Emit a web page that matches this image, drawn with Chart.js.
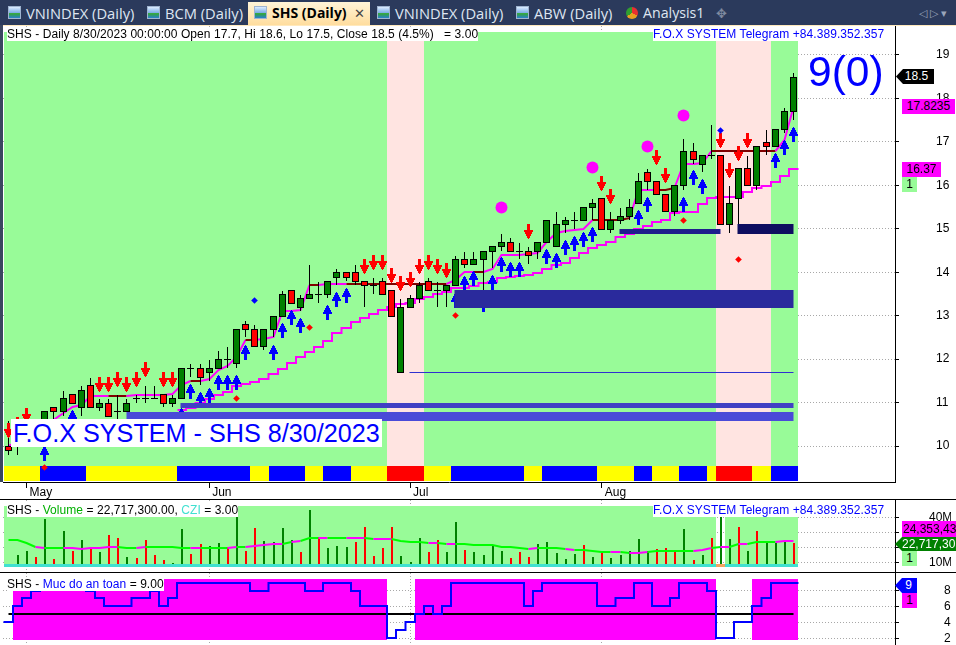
<!DOCTYPE html>
<html>
<head>
<meta charset="utf-8">
<title>SHS Daily</title>
<script src="https://cdn.jsdelivr.net/npm/chart.js@4"></script>
<style>
    html, body { margin: 0; padding: 0; background: #fff; overflow: hidden; }
    #page { position: relative; width: 956px; height: 645px; overflow: hidden; font-family: "Liberation Sans", Arial, sans-serif; }
    canvas { position: absolute; left: 0; }
    .abs { position: absolute; white-space: pre; }
    #tabbar { left: 0; top: 0; width: 956px; height: 25px; background: #2b3a5c; border-bottom: 1px solid #ffe9bd; }
    #leftedge { left: 0; top: 25px; width: 3px; height: 457px; background: #3a4660; }
    .tab { top: 3px; height: 20px; line-height: 20px; color: #dfe6f2; font: 14.7px/20px "Open Sans", sans-serif; }
    .ico { top: 6px; width: 13px; height: 13px; border: 1px solid #9fb4d0; box-sizing: border-box; background: linear-gradient(#dcecff 0, #7fb0e8 50%, #32a832 60%, #2a7fd0 100%); }
    #active { left: 248px; top: 2px; width: 122px; height: 23px; background: linear-gradient(#fff4d8, #ffdd9e); }
    .strip { background: #fff; font-size: 12px; line-height: 14px; height: 14px; color: #000; letter-spacing: 0.06px; }
    .sep { left: 0; width: 956px; height: 1px; background: #000; }
    .tag { font-size: 12px; line-height: 15px; height: 15px; text-align: center; }
    .ptr { clip-path: polygon(0 50%, 7px 0, 100% 0, 100% 100%, 7px 100%); }
</style>
</head>
<body>
<div id="page">
    <canvas id="priceChart" width="956" height="473" style="top:26px"></canvas>
    <canvas id="volChart" width="956" height="72" style="top:500px"></canvas>
    <canvas id="cziChart" width="956" height="72" style="top:573px"></canvas>

    <div class="abs" id="tabbar"></div>
    <div class="abs" id="leftedge"></div>
    <div class="abs" id="active"></div>
    <div class="abs ico" style="left:8px"></div><div class="abs tab" style="left:26px">VNINDEX (Daily)</div>
    <div class="abs ico" style="left:147px"></div><div class="abs tab" style="left:165px">BCM (Daily)</div>
    <div class="abs ico" style="left:254px"></div><div class="abs tab" style="left:272px;color:#000;font-weight:700;font-size:14px">SHS (Daily)</div>
    <div class="abs tab" style="left:354px;color:#444;font-size:13px">✕</div>
    <div class="abs ico" style="left:377px"></div><div class="abs tab" style="left:395px">VNINDEX (Daily)</div>
    <div class="abs ico" style="left:516px"></div><div class="abs tab" style="left:534px">ABW (Daily)</div>
    <div class="abs" style="left:626px;top:7px;width:12px;height:12px;border-radius:50%;background:conic-gradient(#e83030 0 33%, #e8a020 33% 66%, #30a030 66%)"></div>
    <div class="abs tab" style="left:643px;font-size:14.2px">Analysis1</div>
    <div class="abs tab" style="left:716px;color:#7f8aa0;font-size:13px">✥</div>
    <div class="abs tab" style="left:919px;color:#9aa5ba;font-size:11px">◁ ▷ ▾</div>

    <div class="abs strip" style="left:7px;top:27px">SHS - Daily 8/30/2023 00:00:00 Open 17.7, Hi 18.6, Lo 17.5, Close 18.5 (4.5%)   = 3.00</div>
    <div class="abs strip" style="left:653px;top:27px;color:#0000ff">F.O.X SYSTEM Telegram +84.389.352.357</div>
    <div class="abs" style="left:808px;top:46px;font-size:42.5px;line-height:52px;color:#0000ff">9(0)</div>
    <div class="abs" style="left:11px;top:419px;background:#fff;color:#0000ff;font-size:25.2px;line-height:28px;height:28px;padding:0 2px">F.O.X SYSTEM - SHS 8/30/2023</div>

    <div class="abs tag ptr" style="left:896px;top:69px;width:38px;background:#000;color:#fff;padding-left:3px;box-sizing:border-box">18.5</div>
    <div class="abs tag" style="left:902px;top:99px;width:53px;background:#ff00ff;color:#000">17.8235</div>
    <div class="abs tag" style="left:902px;top:162px;width:39px;background:#ff00ff;color:#000">16.37</div>
    <div class="abs tag" style="left:902px;top:177px;width:15px;background:#98fb98;color:#000">1</div>

    <div class="abs sep" style="top:499px"></div>
    <div class="abs sep" style="top:572px"></div>

    <div class="abs strip" style="left:7px;top:503px">SHS - <span style="color:#00b000">Volume</span> = 22,717,300.00, <span style="color:#40e0d0">CZI</span> = 3.00</div>
    <div class="abs strip" style="left:653px;top:503px;color:#0000ff">F.O.X SYSTEM Telegram +84.389.352.357</div>
    <div class="abs tag" style="left:902px;top:521px;width:54px;background:#ff00ff;color:#000;overflow:hidden;text-align:left;height:17px;line-height:16px;padding-left:1px">24,353,43</div>
    <div class="abs tag ptr" style="left:895px;top:537px;width:61px;height:14px;line-height:14px;background:#008000;color:#fff;text-align:left;padding-left:7px;box-sizing:border-box;overflow:hidden">22,717,30</div>
    <div class="abs tag" style="left:902px;top:551px;width:15px;background:#98fb98;color:#000">1</div>

    <div class="abs strip" style="left:7px;top:577px">SHS - <span style="color:#0000ff">Muc do an toan</span> = 9.00</div>
    <div class="abs tag ptr" style="left:895px;top:578px;width:22px;background:#0000ff;color:#fff;padding-left:5px;box-sizing:border-box">9</div>
    <div class="abs tag" style="left:902px;top:593px;width:15px;background:#ff00ff;color:#000">1</div>
</div>

<script>
// Kerzen (Gia mo, cao, thap, dong)
const opens = [10.0,10.3,10.4,10.6,10.5,10.9,10.8,11.2,10.9,11.4,10.9,11.0,10.8,10.8,11.1,11.1,11.1,11.2,11.0,11.1,
    11.8,11.8,11.7,11.8,12.0,11.9,12.8,12.7,12.3,12.7,13.0,13.6,13.2,13.4,13.5,13.5,13.9,14.0,14.0,13.8,
    13.7,13.8,13.6,11.7,13.2,13.4,13.8,13.6,13.6,13.7,14.3,14.2,14.3,14.5,14.6,14.7,14.5,14.5,14.5,14.7,
    14.6,15.1,15.2,15.2,15.5,15.7,15.0,15.2,15.3,15.6,16.3,16.1,15.8,15.4,16.0,16.8,16.5,16.7,16.7,15.1,
    15.7,16.4,16.0,17.0,16.9,17.3,17.7];
const highs = [10.6,10.5,10.6,10.6,10.8,10.9,11.3,11.2,11.4,11.6,11.1,11.1,11.2,11.1,11.2,11.4,11.4,11.2,11.2,11.8,
    11.9,11.9,12.0,12.2,12.3,12.7,12.9,12.8,12.7,13.0,13.6,13.6,13.5,14.2,13.8,13.8,14.1,14.0,14.2,13.8,
    13.9,13.9,13.6,13.4,13.5,13.8,13.9,13.8,13.7,14.4,14.5,14.5,14.5,14.6,14.9,14.8,14.7,14.6,14.7,15.2,
    15.4,15.3,15.4,15.5,15.7,15.7,15.4,15.5,15.7,16.3,16.4,16.1,15.8,16.0,17.1,17.0,16.7,17.4,16.7,16.0,
    16.4,16.7,16.9,17.3,17.3,17.8,18.6];
const lows = [9.8,9.8,10.3,10.4,10.4,10.6,10.7,11.0,10.7,10.9,10.8,10.7,10.6,10.8,11.0,11.0,11.1,10.9,10.9,11.1,
    11.6,11.4,11.5,11.8,11.8,11.8,12.5,12.3,12.2,12.5,13.0,13.3,13.1,13.4,13.3,13.4,13.7,13.8,13.7,13.2,
    13.5,13.5,13.0,11.7,13.2,13.3,13.6,13.2,13.2,13.7,14.1,14.2,13.6,14.1,14.5,14.5,14.3,14.2,14.3,14.7,
    14.6,14.9,15.0,15.2,15.2,15.0,14.9,15.1,15.2,15.6,15.9,15.8,15.4,15.3,15.9,16.5,16.3,16.6,15.1,14.9,
    15.0,16.0,15.9,16.7,16.9,17.2,17.5];
const closes = [9.9,10.5,10.6,10.5,10.8,10.8,11.1,11.0,11.3,10.9,11.0,10.7,10.8,11.0,11.1,11.1,11.1,11.0,11.1,11.8,
    11.8,11.6,11.8,12.0,12.0,12.7,12.7,12.3,12.7,13.0,13.5,13.3,13.4,13.5,13.5,13.8,14.0,13.9,13.8,13.7,
    13.7,13.5,13.0,13.2,13.4,13.7,13.6,13.6,13.7,14.3,14.2,14.3,14.5,14.6,14.7,14.5,14.5,14.4,14.7,15.2,
    15.1,15.2,15.2,15.5,15.6,15.0,15.2,15.3,15.5,16.1,16.1,15.8,15.4,16.0,16.8,16.6,16.7,16.7,15.1,15.6,
    16.4,16.0,16.9,16.9,17.3,17.7,18.5];

// Trailing-Stop Linien
const fastStop = [10.0,10.1,10.2,10.3,10.4,10.6,10.75,10.9,10.95,11.15,11.15,11.15,11.15,11.15,11.17,11.17,11.17,11.18,11.2,11.4,
    11.5,11.5,11.55,11.75,11.85,12.05,12.45,12.45,12.47,12.5,13.1,13.1,13.12,13.7,13.7,13.72,13.73,13.73,13.73,13.73,
    13.73,13.73,13.73,13.73,13.73,13.73,13.73,13.73,13.73,13.82,14.0,14.0,14.0,14.08,14.4,14.4,14.4,14.42,14.45,14.7,
    14.9,14.95,14.97,15.0,15.2,15.2,15.2,15.2,15.25,15.9,15.9,15.9,15.9,15.95,16.5,16.5,16.52,16.8,16.8,16.8,
    16.8,16.8,16.8,16.8,16.8,17.05,17.8];
const fastStopDark = [11,12,20,26,33,37,38,39,40,41,42,43,44,45,46,47,51,64,65,66,67,71,72,77,78,79,80,81,82,83];
const slowBars = [19,20,21,22,23,24,25,26,27,28,29,30,31,32,33,34,35,36,37,38,39,40,41,42,43,44,45,46,47,48,49,50,51,52,
    53,54,55,56,57,58,59,60,61,62,63,64,65,66,67,68,69,70,71,72,73,74,75,76,77,78,79,80,81,82,83,84,85,86];
const slowStop = [10.83,10.88,11.0,11.08,11.18,11.25,11.37,11.43,11.48,11.54,11.66,11.77,11.92,12.06,12.17,12.29,12.42,12.59,12.72,12.86,
    12.95,13.05,13.13,13.21,13.27,13.29,13.38,13.44,13.5,13.54,13.63,13.64,13.68,13.76,13.78,13.87,13.9,13.92,13.94,13.99,
    14.08,14.17,14.22,14.33,14.45,14.56,14.63,14.7,14.8,14.87,15.0,15.07,15.15,15.2,15.37,15.38,15.38,15.57,15.7,15.72,
    15.74,15.74,15.84,15.93,15.98,16.07,16.22,16.38];

// Signalpfeile
const sellBars = [0,1,2,10,11,12,13,14,15,17,18,39,40,41,42,43,44,45,46,47,48,57,65,66,71,72,78,79,80,81];
const sellVals = [10.35,10.5,10.7,11.42,11.42,11.53,11.42,11.53,11.75,11.53,11.53,14.13,14.22,14.22,13.93,13.74,13.84,14.13,14.22,14.13,
    14.04,14.94,16.05,15.74,16.64,16.23,17.04,16.35,16.74,17.04];
const buyBars = [4,7,19,20,21,22,23,24,25,26,29,30,31,32,35,36,37,49,50,51,52,53,54,55,56,59,60,61,62,63,64,69,70,74,75,76,84,85,86];
const buyVals = [9.83,10.66,10.7,11.25,11.06,11.16,11.46,11.46,11.46,12.15,12.15,12.65,12.95,12.77,13.08,13.38,13.46,13.36,13.75,13.85,
    13.26,13.76,14.17,14.06,14.06,14.36,14.27,14.57,14.66,14.76,14.86,15.26,15.56,15.55,16.18,15.97,16.57,16.88,17.17];
const redDotBars = [4,25,33,49,74,80];
const redDotVals = [9.5,11.1,12.72,13.0,15.2,14.3];
const blueDotBars = [27,78];
const blueDotVals = [13.36,17.27];
const bigDotBars = [54,64,70,74];
const bigDotVals = [15.49,16.4,16.9,17.6];

// Unterstuetzungsbaender
const bandStart = [12.9,18.9,48.9,66.9,79.9,43.9];
const bandEnd = [86,86,86,78,86,86];
const bandLevel = [10.68,10.93,13.38,14.94,15.0,11.7];
const bandColors = ['#4a4ad8','#4040c4','#2a2a9c','#1e1e8c','#0e0e60','#3030d0'];
const bandThick = [9,5,18,5,10,1];

const pinkBars = [42,43,44,45,78,79,80,81,82,83];
const stripCodes = ('YYYYBBBBBY' + 'YYYYYYYYYB' + 'BBBBBBBYYB' + 'BBBYYBBBYY' + 'YYRRRRYYYB' +
    'BBBBBBBYYB' + 'BBBBBYYYYB' + 'BYYYBBBYRR' + 'RRYYBBB').split('');

// Volumen (Mio.)
const volumes = [8.2,14.9,17.5,13.5,38.9,12.2,30.9,17.5,24.9,20.2,16.9,28.2,26.2,13.5,12.9,24.9,14.9,11.5,9.5,32.2,
    15.5,22.2,20.9,22.9,20.2,41.5,17.5,32.9,24.2,23.5,32.9,24.9,16.9,44.9,26.9,19.5,20.9,20.2,23.5,33.5,
    14.2,19.5,33.5,14.2,10.2,26.2,16.9,24.9,16.9,36.9,18.2,16.9,14.9,21.5,17.5,12.9,16.9,13.5,22.2,23.5,
    16.2,12.2,15.5,21.5,13.5,16.9,12.9,14.9,17.5,25.5,17.5,18.9,19.5,16.9,32.2,11.5,14.9,26.2,40.9,25.5,
    33.5,17.5,30.9,22.9,22.9,24.9,22.7];
const volColors = ('rggrgrgrgr' + 'grrgrrrrgg' + 'rrggrgrrgg' + 'ggrgrgggrr' + 'rrrgggrrgg' +
    'rggggrrrgg' + 'gggrgrgggg' + 'grrrgrgrgg' + 'rgrggg').split('');
const volAvg = [25.1,24.6,22.6,20.4,19.8,19.8,19.3,19.3,19.1,19.3,19.8,20.0,20.4,19.8,19.8,20.4,20.4,20.4,20.0,19.8,
    19.8,19.8,19.8,19.8,19.8,20.2,20.4,20.9,21.5,22.2,22.4,23.3,24.2,26.4,26.4,26.4,26.4,26.4,26.4,26.4,
    25.3,25.5,25.8,24.4,23.5,23.5,23.1,22.9,22.0,22.2,22.0,21.8,21.8,21.5,20.4,20.0,19.3,19.1,19.8,19.8,
    19.3,18.9,18.4,18.2,17.3,17.1,16.9,16.6,16.4,16.4,17.1,17.5,17.8,17.8,17.8,17.8,18.2,19.3,20.0,20.4,
    22.2,22.4,23.5,23.5,23.5,24.2,24.35];
const volAvgHot = [3,6,7,8,9,10,11,14,20,24,26,27,28,29,31,34,37,38,40,41,46,48,57,61,66,68,69,75,76,78,80,84,85];
const volWhiteBars = [78];

// Muc do an toan
const safety = [4,6,7,8,9,9,9,9,9,8,7,6,6,6,7,7,8,6,7,9,
    9,9,9,9,9,9,9,8,8,9,9,9,9,8,8,9,9,9,8,6,
    6,6,2,3,4,5,6,5,6,9,9,9,9,9,9,9,9,6,8,9,
    9,9,9,9,9,6,6,7,7,9,9,6,6,7,9,9,9,8,2,2,
    4,4,6,7,9,9,9];
const safetyMid = [5,5];
const safetyWhiteBars = [0,42,43,44,78,79,80,81];

// Achsen
const monthTicks = [2,22,44,65];
const monthLabels = ['May','Jun','Jul','Aug'];
const priceTicks = [10,11,12,13,14,15,16,17,18,19];
const volTicks = [10,20,30,40];
const volTickLabels = ['10M','','','40M'];
const safetyTicks = [2,4,6,8];

const GREEN = '#98fb98', PINK = '#ffe4e1', MAGENTA = '#ff00ff';
const stripColor = { Y: '#ffff00', B: '#0000ff', R: '#ff0000' };
const barIndex = opens.map((_, i) => i);
const xRange = { min: -0.58, max: 97.12 };

// Pfeile als Pixelbild wie im Original
function makeArrow(color, up) {
    const rows = [1, 3, 3, 5, 5, 7, 7, 9, 9, 3, 3, 3, 3, 3, 3];
    const c = document.createElement('canvas');
    c.width = 9;
    c.height = 15;
    const g = c.getContext('2d');
    g.fillStyle = color;
    rows.forEach((w, r) => g.fillRect((9 - w) / 2, up ? r : 14 - r, w, 1));
    return c;
}

// Alles auf ganze Pixel legen, sonst werden die Kerzen unscharf
const snapPlugin = {
    id: 'snap',
    beforeDatasetsDraw(chart) {
        chart.getSortedVisibleDatasetMetas().forEach(meta => {
            const ds = chart.data.datasets[meta.index];
            if (meta.type === 'bar') {
                meta.data.forEach(el => {
                    let left, right;
                    if (ds.tile) {
                        left = Math.round(el.x - el.width / 2);
                        right = Math.round(el.x + el.width / 2);
                    } else {
                        const w = Math.round(el.width);
                        left = Math.round(Math.floor(el.x) + 0.5 - w / 2);
                        right = left + w;
                    }
                    el.x = (left + right) / 2;
                    el.width = right - left;
                    let top = Math.round(Math.min(el.y, el.base));
                    let bottom = Math.round(Math.max(el.y, el.base));
                    if (bottom === top) bottom = top + 1;
                    else if (ds.inclusiveEnd) bottom += 1; // GDI-Rechteck schliesst die letzte Zeile ein
                    if (ds.wick) top += 1;
                    el.y = top;
                    el.base = bottom;
                });
            } else {
                const odd = ds.showLine === false || (ds.borderWidth || 0) % 2 === 1;
                meta.data.forEach(el => {
                    el.x = Math.floor(el.x) + 0.5;
                    el.y = odd ? Math.floor(el.y) + 0.5 : Math.round(el.y);
                });
            }
        });
    }
};

function zoneBars(low, high, color, whiteBars, order) {
    return {
        type: 'bar', grouped: false, tile: true, order: order,
        data: barIndex.filter(i => !whiteBars.includes(i)).map(i => ({ x: i, y: [low, high] })),
        backgroundColor: color, barPercentage: 1, categoryPercentage: 1, inflateAmount: 0
    };
}

// Stufenlinie bis an den Rand der letzten Kerze ziehen
function stepPoints(bars, vals) {
    const pts = bars.map((b, i) => ({ x: b, y: vals[i] }));
    pts.unshift({ x: bars[0] - 0.5, y: vals[0] });
    pts.push({ x: bars[bars.length - 1] + 0.5, y: vals[vals.length - 1] });
    return pts;
}

function markers(bars, vals, order, style, radius, color) {
    return {
        type: 'line', showLine: false, order: order,
        data: bars.map((b, i) => ({ x: b, y: vals[i] })),
        pointStyle: style, pointRadius: radius,
        pointBackgroundColor: color, pointBorderColor: color, pointBorderWidth: 0
    };
}

function xAxis(withLabels) {
    return {
        type: 'linear', min: xRange.min, max: xRange.max, offset: false,
        afterBuildTicks: s => { s.ticks = monthTicks.map(v => ({ value: v })); },
        afterFit: s => { s.height = withLabels ? 17 : 0; s.paddingLeft = 0; s.paddingRight = 0; },
        border: { display: withLabels, color: '#000', dash: [1, 2] },
        grid: { offset: false, color: '#a8a8a8', tickColor: '#000', tickLength: withLabels ? 6 : 0, drawTicks: withLabels },
        ticks: {
            display: withLabels, autoSkip: false, maxRotation: 0, align: 'start', labelOffset: 3, padding: -3,
            color: '#000', font: { family: '"Liberation Sans"', size: 12 },
            callback: v => monthLabels[monthTicks.indexOf(v)]
        }
    };
}

function yAxis(min, max, tickVals, labelFn, pad) {
    return {
        position: 'right', min: min, max: max,
        afterBuildTicks: s => { s.ticks = tickVals.map(v => ({ value: v })); },
        afterFit: s => { s.width = 56; s.paddingTop = 0; s.paddingBottom = 0; },
        border: { color: '#000', dash: [1, 2] },
        grid: { color: '#a8a8a8', tickColor: '#000', tickLength: 4 },
        ticks: { color: '#000', padding: pad, font: { family: '"Liberation Sans"', size: 12 }, callback: labelFn }
    };
}

function baseOptions(withLabels, y) {
    return {
        responsive: false,
        animation: false,
        events: [],
        layout: { autoPadding: false, padding: { left: 3, right: 5, top: 0, bottom: 0 } },
        plugins: { legend: { display: false }, tooltip: { enabled: false } },
        scales: { x: xAxis(withLabels), y: y }
    };
}

// Kurs-Chart
new Chart(document.getElementById('priceChart').getContext('2d'), {
    plugins: [snapPlugin],
    data: {
        datasets: [
            zoneBars(9.54, 19.53, ctx => pinkBars.includes(ctx.raw.x) ? PINK : GREEN, [], 20),
            {
                type: 'bar', grouped: false, tile: true, order: 19,
                data: barIndex.map(i => ({ x: i, y: [9.2, 9.54] })),
                backgroundColor: ctx => stripColor[stripCodes[ctx.dataIndex]],
                barPercentage: 1, categoryPercentage: 1, inflateAmount: 0
            },
            {
                type: 'line', order: 18, stepped: 'middle', borderColor: MAGENTA, borderWidth: 2, pointRadius: 0,
                data: stepPoints(slowBars, slowStop)
            },
            {
                type: 'line', order: 17, borderColor: MAGENTA, borderWidth: 2, pointRadius: 0,
                data: barIndex.map(i => ({ x: i, y: fastStop[i] })),
                segment: { borderColor: ctx => fastStopDark.includes(ctx.p0DataIndex) ? '#800000' : undefined }
            },
            {
                type: 'bar', grouped: false, wick: true, order: 16, barThickness: 1, backgroundColor: '#000', inflateAmount: 0,
                data: barIndex.map(i => ({ x: i, y: [lows[i], highs[i]] }))
            },
            {
                type: 'bar', grouped: false, inclusiveEnd: true, order: 15, barThickness: 7, borderWidth: 1, borderColor: '#000',
                borderSkipped: false, inflateAmount: 0,
                backgroundColor: ctx => closes[ctx.dataIndex] >= opens[ctx.dataIndex] ? '#008000' : '#ff0000',
                data: barIndex.map(i => ({ x: i, y: [opens[i], closes[i]] }))
            },
            markers(sellBars, sellVals, 14, makeArrow('#ff0000', false), 5, '#ff0000'),
            markers(buyBars, buyVals, 13, makeArrow('#0000ff', true), 5, '#0000ff'),
            ...bandStart.map((s, b) => ({
                type: 'line', order: 12, borderColor: bandColors[b], borderWidth: bandThick[b], pointRadius: 0,
                data: [{ x: s, y: bandLevel[b] }, { x: bandEnd[b], y: bandLevel[b] }]
            })),
            markers(redDotBars, redDotVals, 3, 'rectRot', 3.3, '#ff0000'),
            markers(blueDotBars, blueDotVals, 3, 'rectRot', 3.3, '#0000ff'),
            markers(bigDotBars, bigDotVals, 3, 'circle', 6, MAGENTA)
        ]
    },
    options: baseOptions(true, yAxis(9.172, 19.667, priceTicks, v => String(v), 37))
});

// Volumen-Chart
new Chart(document.getElementById('volChart').getContext('2d'), {
    plugins: [snapPlugin],
    data: {
        datasets: [
            zoneBars(7.07, 47.53, GREEN, volWhiteBars, 9),
            {
                type: 'bar', grouped: false, order: 8, barThickness: 2, inflateAmount: 0,
                backgroundColor: ctx => volColors[ctx.dataIndex] === 'g' ? '#008000' : '#ff0000',
                data: barIndex.map(i => ({ x: i, y: [7.07, volumes[i]] }))
            },
            {
                type: 'bar', grouped: false, tile: true, order: 7, barPercentage: 1, categoryPercentage: 1, inflateAmount: 0,
                backgroundColor: ctx => volWhiteBars.includes(ctx.dataIndex) ? '#f4a460' : '#40e0d0',
                data: barIndex.map(i => ({ x: i, y: [7.07, 8.87] }))
            },
            {
                type: 'line', order: 6, borderColor: '#00ff00', borderWidth: 2, pointRadius: 0,
                data: barIndex.map(i => ({ x: i, y: volAvg[i] })),
                segment: { borderColor: ctx => volAvgHot.includes(ctx.p0DataIndex) ? MAGENTA : undefined }
            }
        ]
    },
    options: baseOptions(false, yAxis(3.53, 51.53, volTicks, v => volTickLabels[volTicks.indexOf(v)], 30))
});

// Sicherheitsstufe
new Chart(document.getElementById('cziChart').getContext('2d'), {
    plugins: [snapPlugin],
    data: {
        datasets: [
            zoneBars(1.82, 9.45, MAGENTA, safetyWhiteBars, 9),
            {
                type: 'line', order: 8, borderColor: '#000', borderWidth: 2, pointRadius: 0,
                data: [{ x: 0, y: safetyMid[0] }, { x: 86, y: safetyMid[1] }]
            },
            {
                type: 'line', order: 7, stepped: 'middle', borderColor: '#0000ff', borderWidth: 2, pointRadius: 0,
                data: stepPoints(barIndex, safety)
            }
        ]
    },
    options: baseOptions(false, yAxis(1.16, 10.2, safetyTicks, v => String(v), 45))
});
</script>
</body>
</html>
